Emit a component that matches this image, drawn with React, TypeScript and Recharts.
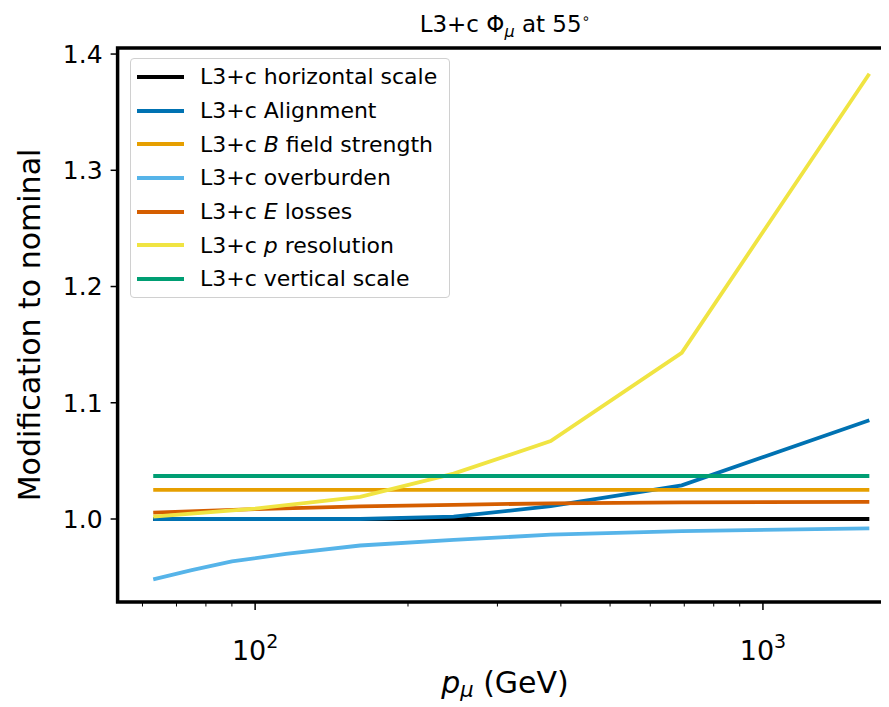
import React from 'react';
import {LineChart, Line, XAxis, YAxis, ReferenceArea} from 'recharts';

// x positions (GeV)
const pGrid = [63, 100, 161, 246, 382, 692, 1620];
const pGridFine = [63, 75, 90, 115, 161, 246, 382, 692, 1620];

const horizontalScale = [1.0, 1.0, 1.0, 1.0, 1.0, 1.0, 1.0];
const alignment = [1.0, 1.0, 1.0, 1.002, 1.011, 1.029, 1.085];
const bField = [1.025, 1.025, 1.025, 1.025, 1.025, 1.025, 1.025];
const overburden = [0.948, 0.956, 0.9635, 0.970, 0.9772, 0.982, 0.9865, 0.9895, 0.992];
const eLosses = [1.0055, 1.0085, 1.0108, 1.0122, 1.0135, 1.0143, 1.0148];
const pResolution = [1.002, 1.009, 1.019, 1.039, 1.067, 1.143, 1.383];
const verticalScale = [1.037, 1.037, 1.037, 1.037, 1.037, 1.037, 1.037];

const yTicks = [1.0, 1.1, 1.2, 1.3, 1.4];
const xTicks = [60, 70, 80, 90, 100, 200, 300, 400, 500, 600, 700, 800, 900, 1000];
const xMajor: Record<number, string> = {100: '2', 1000: '3'};

const X_DOMAIN: [number, number] = [53.6, 1820];
const Y_DOMAIN: [number, number] = [0.9286, 1.4052];

const FONT = '"DejaVu Sans", sans-serif';

const toPoints = (xs: number[], ys: number[]) => xs.map((x, i) => ({x, y: ys[i]}));

const series = [
    {key: 'horiz', pre: 'L3+c ', it: '', post: 'horizontal scale', color: '#000000', data: toPoints(pGrid, horizontalScale)},
    {key: 'align', pre: 'L3+c ', it: '', post: 'Alignment', color: '#0072B2', data: toPoints(pGrid, alignment)},
    {key: 'bfield', pre: 'L3+c ', it: 'B', post: ' field strength', color: '#E69F00', data: toPoints(pGrid, bField)},
    {key: 'over', pre: 'L3+c ', it: '', post: 'overburden', color: '#56B4E9', data: toPoints(pGridFine, overburden)},
    {key: 'eloss', pre: 'L3+c ', it: 'E', post: ' losses', color: '#D55E00', data: toPoints(pGrid, eLosses)},
    {key: 'pres', pre: 'L3+c ', it: 'p', post: ' resolution', color: '#F0E442', data: toPoints(pGrid, pResolution)},
    {key: 'vert', pre: 'L3+c ', it: '', post: 'vertical scale', color: '#009E73', data: toPoints(pGrid, verticalScale)},
];

const XTick = (props: any) => {
    const {x, y, payload} = props;
    const exp = xMajor[payload.value];
    const major = exp !== undefined;
    return (
        <g>
            <line x1={x} x2={x} y1={y} y2={y + (major ? 8 : 4.5)} stroke="#000" strokeWidth={major ? 1.5 : 1}/>
            {major && (
                <text x={x} y={y + 58} textAnchor="middle" fontSize={27} fontFamily={FONT} fill="#000">
                    10<tspan dy={-12} fontSize={19}>{exp}</tspan>
                </text>
            )}
        </g>
    );
};

// legend drawn as a plain box, so it doesn't eat into the plot area
const LegendBox = () => (
    <div style={{
        position: 'absolute', left: 122, top: 50,
        border: '1.5px solid #d0d0d0', borderRadius: 4, background: 'rgba(255,255,255,0.8)',
        width: 320, height: 240, boxSizing: 'border-box', paddingTop: 1, fontFamily: FONT
    }}>
        {series.map(s => (
            <div key={s.key} style={{display: 'flex', alignItems: 'center', height: 33.7}}>
                <div style={{width: 47, height: 4, background: s.color, marginLeft: 6, marginRight: 16}}/>
                <span style={{fontSize: 22, color: '#000', whiteSpace: 'nowrap'}}>
                    {s.pre}{s.it && <i>{s.it}</i>}{s.post}
                </span>
            </div>
        ))}
    </div>
);

export default function App() {
    return (
        <div style={{position: 'relative', width: 881, height: 699, overflow: 'hidden', fontFamily: FONT}}>
            <LineChart width={892} height={690} margin={{top: 40, right: 5, bottom: 16, left: 9.6}}>
                <XAxis dataKey="x" type="number" scale="log" domain={X_DOMAIN} allowDataOverflow
                       ticks={xTicks} interval={0} tick={<XTick/>} tickLine={false} axisLine={false}
                       tickSize={0} tickMargin={0} height={80}/>
                <YAxis type="number" domain={Y_DOMAIN} allowDataOverflow ticks={yTicks} width={100}
                       tickFormatter={(v: number) => v.toFixed(1)} axisLine={false}
                       tickLine={{stroke: '#000', strokeWidth: 1.5}} tickSize={7} tickMargin={8}
                       tick={{fontSize: 25, fill: '#000', fontFamily: FONT}}/>
                <ReferenceArea x1={X_DOMAIN[0]} x2={X_DOMAIN[1]} y1={Y_DOMAIN[0]} y2={Y_DOMAIN[1]}
                               fill="none" stroke="#000" strokeWidth={3.5} ifOverflow="visible"/>
                {series.map(s => (
                    <Line key={s.key} data={s.data} dataKey="y" name={s.post} stroke={s.color} strokeWidth={3.8}
                          dot={false} activeDot={false} isAnimationActive={false} type="linear"/>
                ))}
            </LineChart>
            <LegendBox/>
            <div style={{position: 'absolute', left: 497, top: 16, transform: 'translate(-50%, -50%)', fontSize: 23, lineHeight: 1, whiteSpace: 'nowrap'}}>
                L3+c Φ<sub style={{fontSize: 16, fontStyle: 'italic', lineHeight: 0}}>μ</sub> at 55<sup style={{fontSize: 14, lineHeight: 0}}>∘</sup>
            </div>
            <div style={{position: 'absolute', left: 22, top: 317, transform: 'translate(-50%, -50%) rotate(-90deg)', fontSize: 30, lineHeight: 1, whiteSpace: 'nowrap'}}>
                Modification to nominal
            </div>
            <div style={{position: 'absolute', left: 497, top: 675, transform: 'translate(-50%, -50%)', fontSize: 30, lineHeight: 1, whiteSpace: 'nowrap'}}>
                <i>p</i><sub style={{fontSize: 21, fontStyle: 'italic', lineHeight: 0, verticalAlign: '-0.2em'}}>μ</sub> (GeV)
            </div>
        </div>
    );
}
